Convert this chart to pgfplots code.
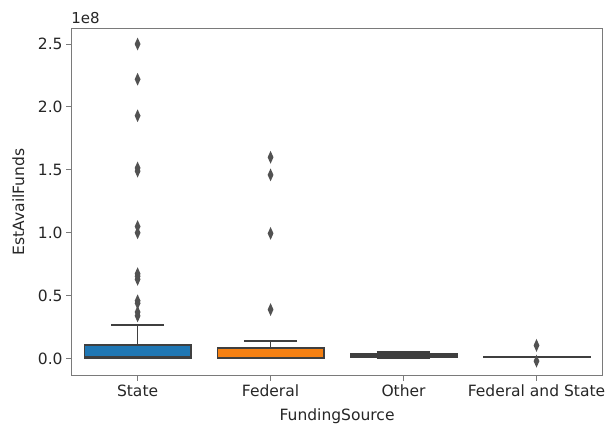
\documentclass[border=0pt]{standalone}
\usepackage{fontspec}
\setmainfont{DejaVu Sans}
\usepackage{pgfplots}
\pgfplotsset{compat=1.18}
\usepgfplotslibrary{statistics}

\definecolor{sbblue}{HTML}{1F77B4}
\definecolor{sborange}{HTML}{F58012}
\definecolor{sbgreen}{HTML}{3A923A}
\definecolor{sbred}{HTML}{C03D3E}
\definecolor{edge}{HTML}{3F3F3F}
\definecolor{spine}{HTML}{7A7A7A}

\begin{document}
\begin{tikzpicture}
\begin{axis}[
  scale only axis,
  width=531bp, height=347bp,
  xmin=-0.5, xmax=3.5,
  ymin=-0.135, ymax=2.627,
  xtick={0,1,2,3},
  xticklabels={State,Federal,Other,Federal and State},
  ytick={0,0.5,1,1.5,2,2.5},
  yticklabel style={/pgf/number format/.cd, fixed, fixed zerofill, precision=1, assume math mode=true},
  tick pos=left,
  tick align=outside,
  major tick length=5bp,
  axis line style={draw=spine, line width=1bp},
  tick style={draw=spine, line width=1bp},
  every tick label/.append style={font=\fontsize{15.5bp}{18bp}\selectfont, text=black!85},
  xticklabel style={yshift=-1bp},
  label style={font=\fontsize{15.5bp}{18bp}\selectfont, text=black!85},
  xlabel={FundingSource},
  ylabel={EstAvailFunds},
  xlabel style={at={(axis description cs:0.5,-0.118)}, anchor=center},
  ylabel style={at={(axis description cs:-0.099,0.5)}, anchor=center},
  boxplot/draw direction=y,
  boxplot/box extend=0.8,
  boxplot/whisker extend=0.4,
  every boxplot/.style={draw=edge, line width=1.6bp, solid},
  mark options={solid, fill=edge!90, draw=edge!90, xscale=0.6},
  mark size=4.5bp,
  clip=false,
]
% State
\addplot[boxplot prepared={draw position=0,
    lower whisker=0.0, lower quartile=0.005, median=0.012,
    upper quartile=0.11, upper whisker=0.265},
  fill=sbblue, draw=edge, line width=1.6bp, mark=diamond*]
  table[row sep=\\, y index=0] {data\\ 2.50\\ 2.22\\ 1.93\\ 1.515\\ 1.49\\ 1.05\\ 1.00\\ 0.675\\ 0.655\\ 0.63\\ 0.46\\ 0.44\\ 0.37\\ 0.34\\};
% Federal
\addplot[boxplot prepared={draw position=1,
    lower whisker=0.0, lower quartile=0.004, median=0.01,
    upper quartile=0.085, upper whisker=0.138},
  fill=sborange, draw=edge, line width=1.6bp, mark=diamond*]
  table[row sep=\\, y index=0] {data\\ 1.60\\ 1.46\\ 0.995\\ 0.39\\};
% Other
\addplot[boxplot prepared={draw position=2,
    lower whisker=0.0, lower quartile=0.01, median=0.02,
    upper quartile=0.035, upper whisker=0.055},
  fill=sbgreen, draw=edge, line width=1.6bp, mark=diamond*]
  coordinates {};
% Federal and State
\addplot[boxplot prepared={draw position=3,
    lower whisker=0.008, lower quartile=0.009, median=0.01,
    upper quartile=0.011, upper whisker=0.012},
  fill=sbred, draw=edge, line width=1.6bp, mark=diamond*]
  table[row sep=\\, y index=0] {data\\ 0.105\\ -0.02\\};
\node[anchor=base west, font=\fontsize{15bp}{18bp}\selectfont, text=black!85, inner sep=0pt]
  at ([yshift=5bp]rel axis cs:0,1) {1e8};
\end{axis}
\pgfresetboundingbox
\path[use as bounding box] ([shift={(-71bp,-49bp)}]current axis.south west) rectangle ([shift={(4bp,28bp)}]current axis.north east);
\end{tikzpicture}
\end{document}
